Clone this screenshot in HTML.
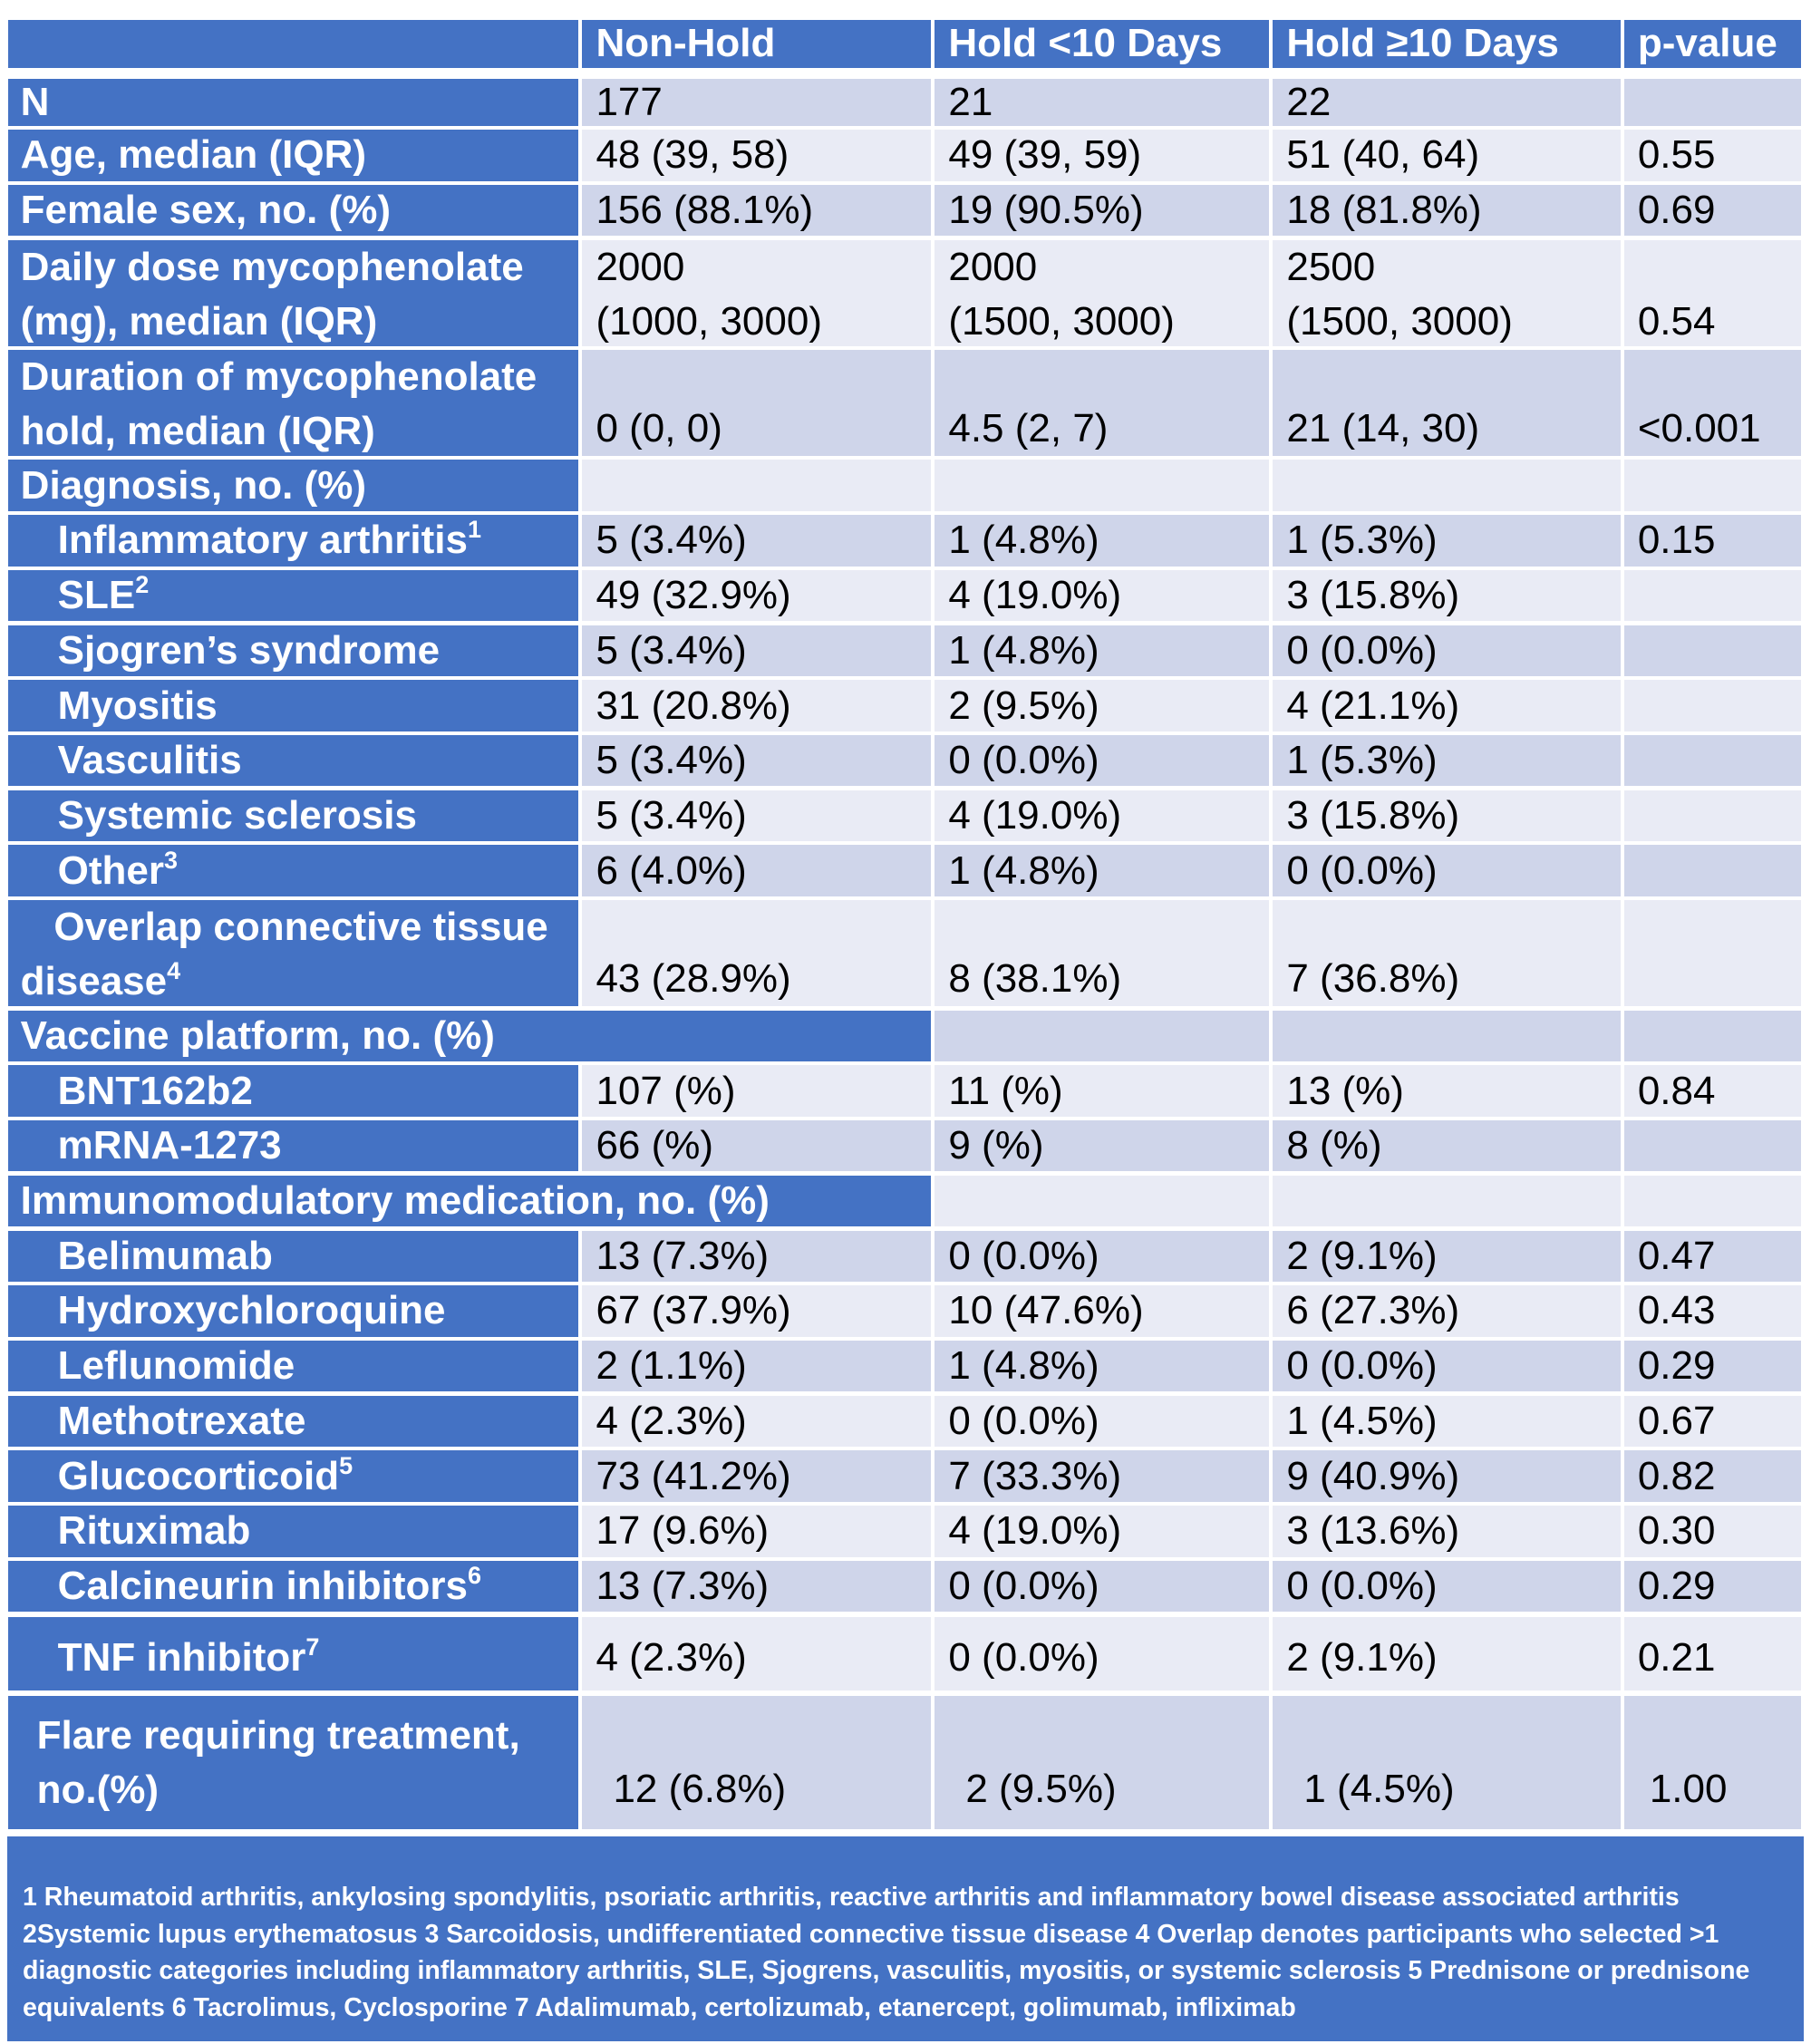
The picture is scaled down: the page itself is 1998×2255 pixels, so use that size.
<!DOCTYPE html>
<html><head><meta charset="utf-8">
<style>
html,body{margin:0;padding:0;background:#fff;}
#wrap{position:relative;width:1998px;height:2255px;overflow:hidden;font-family:"Liberation Sans Narrow","Liberation Sans",sans-serif;}
.c{position:absolute;box-sizing:border-box;font-size:44px;line-height:60px;white-space:nowrap;overflow:hidden;}
.lab{background:#4472C4;color:#fff;font-weight:bold;}
.d1{background:#CFD5EA;color:#000;}
.d2{background:#E9EBF5;color:#000;}
.hd{background:#4472C4;color:#fff;font-weight:bold;}
sup{font-size:27px;line-height:0;vertical-align:17px;}
.t{position:absolute;}
#foot{position:absolute;left:8px;top:2026px;width:1982px;height:226px;background:#4472C4;color:#fff;font-weight:bold;font-size:28.5px;line-height:40.5px;box-sizing:border-box;padding:47px 0 0 17px;white-space:nowrap;overflow:hidden;}
</style></head><body>
<div id="wrap"></div>
<script>
const S = 1998/1382;
const colX = [6, 443, 712, 970, 1238, 1376];
const rows = [
 [60,96,'N',0,['177','21','22',''],0,'c',1],
 [99,138,'Age, median (IQR)',0,['48 (39, 58)','49 (39, 59)','51 (40, 64)','0.55'],0,'c',1],
 [141,180,'Female sex, no. (%)',0,['156 (88.1%)','19 (90.5%)','18 (81.8%)','0.69'],0,'c',1],
 [183,264,'Daily dose mycophenolate<br>(mg), median (IQR)',0,['2000<br>(1000, 3000)','2000<br>(1500, 3000)','2500<br>(1500, 3000)','<br>0.54'],1,'t',1],
 [267,348,'Duration of mycophenolate<br>hold, median (IQR)',0,['0 (0, 0)','4.5 (2, 7)','21 (14, 30)','&lt;0.001'],1,'b',1],
 [351,390,'Diagnosis, no. (%)',0,['','','',''],0,'c',1],
 [393,432,'Inflammatory arthritis<sup>1</sup>',1,['5 (3.4%)','1 (4.8%)','1 (5.3%)','0.15'],0,'c',1],
 [435,474,'SLE<sup>2</sup>',1,['49 (32.9%)','4 (19.0%)','3 (15.8%)',''],0,'c',1],
 [477,516,'Sjogren’s syndrome',1,['5 (3.4%)','1 (4.8%)','0 (0.0%)',''],0,'c',1],
 [519,558,'Myositis',1,['31 (20.8%)','2 (9.5%)','4 (21.1%)',''],0,'c',1],
 [561,600,'Vasculitis',1,['5 (3.4%)','0 (0.0%)','1 (5.3%)',''],0,'c',1],
 [603,642,'Systemic sclerosis',1,['5 (3.4%)','4 (19.0%)','3 (15.8%)',''],0,'c',1],
 [645,684,'Other<sup>3</sup>',1,['6 (4.0%)','1 (4.8%)','0 (0.0%)',''],0,'c',1],
 [687,768,'&nbsp;&nbsp;&nbsp;Overlap connective tissue<br>disease<sup>4</sup>',0,['43 (28.9%)','8 (38.1%)','7 (36.8%)',''],1,'b',1],
 [771,810,'Vaccine platform, no. (%)',0,['','',''],0,'c',2],
 [813,852,'BNT162b2',1,['107 (%)','11 (%)','13 (%)','0.84'],0,'c',1],
 [855,894,'mRNA-1273',1,['66 (%)','9 (%)','8 (%)',''],0,'c',1],
 [897,936,'Immunomodulatory medication, no. (%)',0,['','',''],0,'c',2],
 [939,978,'Belimumab',1,['13 (7.3%)','0 (0.0%)','2 (9.1%)','0.47'],0,'c',1],
 [981,1020,'Hydroxychloroquine',1,['67 (37.9%)','10 (47.6%)','6 (27.3%)','0.43'],0,'c',1],
 [1023,1062,'Leflunomide',1,['2 (1.1%)','1 (4.8%)','0 (0.0%)','0.29'],0,'c',1],
 [1065,1104,'Methotrexate',1,['4 (2.3%)','0 (0.0%)','1 (4.5%)','0.67'],0,'c',1],
 [1107,1146,'Glucocorticoid<sup>5</sup>',1,['73 (41.2%)','7 (33.3%)','9 (40.9%)','0.82'],0,'c',1],
 [1149,1188,'Rituximab',1,['17 (9.6%)','4 (19.0%)','3 (13.6%)','0.30'],0,'c',1],
 [1191,1230,'Calcineurin inhibitors<sup>6</sup>',1,['13 (7.3%)','0 (0.0%)','0 (0.0%)','0.29'],0,'c',1],
 [1234,1290,'TNF inhibitor<sup>7</sup>',1,['4 (2.3%)','0 (0.0%)','2 (9.1%)','0.21'],0,'b2',1],
 [1294,1396,'Flare requiring treatment,<br>no.(%)',2,['12 (6.8%)','2 (9.5%)','1 (4.5%)','1.00'],1,'f',1]
];
const wrap = document.getElementById('wrap');
function cell(x0,x1,y0,y1,cls,html,padL,valign,name,isLabel){
  const d=document.createElement('div');
  d.className='c '+cls;
  
  
  d.style.left=(x0*S+(x0===6?0:2))+'px';
  d.style.width=((x1-x0)*S-(x0===6?2:4))+'px';
  d.style.top=(y0*S)+'px';
  d.style.height=((y1-y0)*S)+'px';
  const t=document.createElement('div');
  t.className='t';
  t.style.left=padL+'px';
  t.innerHTML=html;
  const h=(y1-y0)*S;
  if(valign==='c'){t.style.top=((h-60)/2)+'px';}
  else if(valign==='t'){t.style.top='0px';}
  else if(valign==='b'){t.style.bottom='0px';}
  else if(valign==='b2'){t.style.bottom='6px';}
  else if(valign==='f'){
    if(isLabel){t.style.top='14px';}
    else {t.style.bottom='14px';}
  }
  d.appendChild(t);
  wrap.appendChild(d);
}
const heads=['Non-Hold','Hold &lt;10 Days','Hold ≥10 Days','p-value'];
cell(colX[0],colX[1],15,52,'hd','',0,'c','header-blank');
for(let i=0;i<4;i++){cell(colX[i+1],colX[i+2],15,52,'hd',heads[i],15,'c','header-'+['non-hold','hold-lt10','hold-ge10','p-value'][i]);}
rows.forEach((r,ri)=>{
  const [y0,y1,lab,ind,vals,two,vp,span]=r;
  const shade = ri%2===0?'d1':'d2';
  const padL = ind===1?55:(ind===2?32:14);
  const lv = vp==='f'?'f':(two?'t':(vp==='b2'?'b2':'c'));
  cell(colX[0],colX[span],y0,y1,'lab',lab,padL,lv,'row-label-'+ri,true);
  for(let j=span;j<5;j++){
    const v = vals[j-1]!==undefined?vals[j-1]:'';
    const pad = vp==='f'?(j===4?28:34):15;
    cell(colX[j],colX[j+1],y0,y1,shade,v,pad,vp,'cell-r'+ri+'-c'+j,false);
  }
});
</script>
<div id="foot">1 Rheumatoid arthritis, ankylosing spondylitis, psoriatic arthritis, reactive arthritis and inflammatory bowel disease associated arthritis<br>2Systemic lupus erythematosus 3 Sarcoidosis, undifferentiated connective tissue disease 4 Overlap denotes participants who selected &gt;1<br>diagnostic categories including inflammatory arthritis, SLE, Sjogrens, vasculitis, myositis, or systemic sclerosis 5 Prednisone or prednisone<br>equivalents 6 Tacrolimus, Cyclosporine 7 Adalimumab, certolizumab, etanercept, golimumab, infliximab</div>
<script>
document.getElementById('wrap').appendChild(document.getElementById('foot'));
</script>
</body></html>
